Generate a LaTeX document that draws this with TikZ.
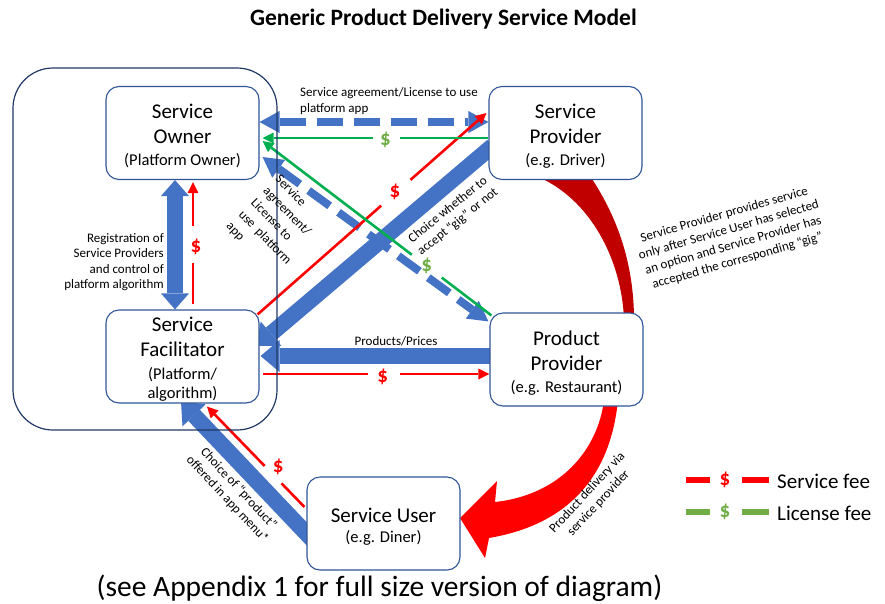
\documentclass[tikz,border=0pt]{standalone}
\usepackage{fontspec}
\setmainfont{Carlito}
\usetikzlibrary{arrows.meta,calc}

\definecolor{pblue}{HTML}{4472C4}
\definecolor{boxline}{HTML}{2F5597}
\definecolor{framecol}{HTML}{203864}
\definecolor{fred}{HTML}{FF0000}
\definecolor{dred}{HTML}{C00000}
\definecolor{lgreen}{HTML}{00B050}
\definecolor{dgreen}{HTML}{70AD47}

\newcommand\subtxt[1]{{\fontsize{16.5}{20}\selectfont #1}}

\pgfdeclarelayer{arrows}
\pgfdeclarelayer{platform}
\pgfsetlayers{arrows,platform,main}

\tikzset{
  box/.style={draw=boxline, line width=1.1pt, fill=white, rounded corners=13pt,
    minimum width=153pt, minimum height=93pt, inner sep=0pt},
  boxtext/.style={align=center, inner sep=0pt, font=\fontsize{21}{25}\selectfont},
  bigarrow/.style={draw=pblue, line width=16pt,
    -{Triangle[width=32pt,length=19pt,line width=0pt]}},
  vdouble/.style={draw=pblue, line width=16pt,
    {Triangle[width=28pt,length=16pt,line width=0pt]}-{Triangle[width=28pt,length=16pt,line width=0pt]}},
  dasharrow/.style={draw=pblue, line width=8pt, dash pattern=on 26pt off 11pt,
    {Triangle[width=22pt,length=20pt,line width=0pt]}-{Triangle[width=22pt,length=20pt,line width=0pt]}},
  redline/.style={draw=fred, line width=2.6pt},
  greenline/.style={draw=lgreen, line width=2.6pt},
  thintip/.style={-{Triangle[width=11pt,length=11pt,line width=0pt]}},
  dollar/.style={font=\fontsize{21}{21}\selectfont\bfseries, inner sep=0pt},
  note/.style={font=\fontsize{13}{15.5}\selectfont, inner sep=0pt},
  legendtext/.style={font=\fontsize{21}{25}\selectfont, inner sep=0pt, anchor=west},
}

\begin{document}
\begin{tikzpicture}[x=1pt,y=-1pt]
\useasboundingbox (0,0) rectangle (885,603);

% title and footnote
\node[font=\fontsize{23.5}{28}\selectfont\bfseries] (title) at (443.5,19)
  {Generic Product Delivery Service Model};
\node[font=\fontsize{29.5}{34}\selectfont] (foot) at (379.5,588)
  {(see Appendix 1 for full size version of diagram)};

% parties
\node[box] (so) at (182.5,133) {};
\node[box] (sp) at (565.5,133) {};
\node[box] (sf) at (182.5,356.5) {};
\node[box] (pp) at (566.5,359.5) {};
\node[box] (su) at (383.5,523.5) {};

\node[boxtext] (so-t) at ($(so)+(0,3)$) {Service\\Owner\\[-3pt]\subtxt{(Platform Owner)}};
\node[boxtext] (sp-t) at ($(sp)+(0,3)$) {Service\\Provider\\[-3pt]\subtxt{(e.g. Driver)}};
\node[boxtext] (sf-t) at ($(sf)+(0,3)$)
  {Service\\Facilitator\\[-2pt]\subtxt{(Platform/}\\[-6pt]\subtxt{algorithm)}};
\node[boxtext] (pp-t) at ($(pp)+(0,3.5)$) {Product\\Provider\\[-3pt]\subtxt{(e.g. Restaurant)}};
\node[boxtext] (su-t) at ($(su)+(0,3.5)$) {Service User\\[-5pt]\subtxt{(e.g. Diner)}};

% platform frame around owner and facilitator
\begin{pgfonlayer}{platform}
  \node[draw=framecol, line width=1.2pt, rounded corners=40pt,
    minimum width=264pt, minimum height=362pt, inner sep=0pt] (platform) at (145,249) {};
\end{pgfonlayer}

\begin{pgfonlayer}{arrows}
  % delivery loop: service provider -> service user, behind product provider
  \fill[dred] (536,176) .. controls (590,198) and (622,260) .. (624,320)
    -- (634,320) .. controls (634,260) and (615,213) .. (590,176) -- cycle;
  \fill[fred] (604,400) .. controls (598,450) and (560,495) .. (495,502)
    -- (497,481) -- (460,518) -- (485,558) -- (489,538)
    .. controls (565,525) and (610,480) .. (618,400) -- cycle;

  % block arrows
  \draw[bigarrow] ($(sp.west)+(4,13)$) -- ($(sf.east)+(-3,-10.5)$);
  \draw[bigarrow] ($(pp.west)+(2,-3.5)$) -- ($(sf.east)+(1,-0.5)$);
  \draw[bigarrow] ($(su.west)+(8,18.5)$) -- ($(sf.south)+(-1.5,-2)$);
  \draw[vdouble] ($(so.south)+(-7.5,0)$) -- ($(sf.north)+(-7.5,0)$);

  % agreements
  \draw[dasharrow] ($(so.east)+(0,-11)$) -- ($(sp.west)+(0,-11)$);
  \draw[dasharrow] ($(so.east)+(3,24)$) -- ($(pp.north west)+(-1,9)$);

  % service fees
  \coordinate (r1a) at ($(sf.north east)+(-2,5)$);
  \coordinate (r1b) at ($(sp.west)+(-2,-20)$);
  \draw[redline] (r1a) -- ($(r1a)!0.54!(r1b)$);
  \draw[redline,thintip] ($(r1a)!0.668!(r1b)$) -- (r1b);

  \coordinate (r2a) at ($(sf.east)+(3,17.5)$);
  \coordinate (r2b) at ($(pp.west)+(0,14.5)$);
  \draw[redline] (r2a) -- ($(r2a)!0.465!(r2b)$);
  \draw[redline,thintip] ($(r2a)!0.605!(r2b)$) -- (r2b);

  \coordinate (r3a) at ($(sf.north)+(10.5,-5)$);
  \coordinate (r3b) at ($(so.south)+(10.5,2)$);
  \draw[redline] (r3a) -- ($(r3a)!0.341!(r3b)$);
  \draw[redline,thintip] ($(r3a)!0.642!(r3b)$) -- (r3b);

  \coordinate (r4a) at ($(su.west)+(-2,-16.5)$);
  \coordinate (r4b) at ($(sf.south)+(24.5,3)$);
  \draw[redline] (r4a) -- ($(r4a)!0.235!(r4b)$);
  \draw[redline,thintip] ($(r4a)!0.408!(r4b)$) -- (r4b);

  % license fees
  \coordinate (g1a) at ($(sp.west)+(0,5)$);
  \coordinate (g1b) at ($(so.east)+(3,5)$);
  \draw[greenline] (g1a) -- ($(g1a)!0.39!(g1b)$);
  \draw[greenline,thintip] ($(g1a)!0.513!(g1b)$) -- (g1b);

  \coordinate (g2a) at ($(pp.north west)+(2,3)$);
  \coordinate (g2b) at ($(so.east)+(3,8)$);
  \draw[greenline] (g2a) -- ($(g2a)!0.217!(g2b)$);
  \draw[greenline,thintip] ($(g2a)!0.348!(g2b)$) -- (g2b);
\end{pgfonlayer}

% fee markers
\node[dollar,text=fred] (d1) at ($(r1a)!0.6!(r1b)+(0,-2)$) {\$};
\node[dollar,text=fred] (d2) at ($(r2a)!0.53!(r2b)+(0,3)$) {\$};
\node[dollar,text=fred] (d3) at ($(r3a)!0.47!(r3b)+(3,0)$) {\$};
\node[dollar,text=fred] (d4) at ($(r4a)!0.32!(r4b)+(5,-8)$) {\$};
\node[dollar,text=dgreen] (d5) at ($(g1a)!0.456!(g1b)+(0,2)$) {\$};
\node[dollar,text=dgreen] (d6) at ($(g2a)!0.283!(g2b)$) {\$};

% connector labels
\node[note, align=left, anchor=west] (lab1) at (300,101)
  {Service agreement/License to use\\platform app};
\node[note] (lab2) at (396,341) {Products/Prices};
\node[note, align=right, anchor=east] (lab3) at (164,262)
  {Registration of\\Service Providers\\and control of\\platform algorithm};
\node[note, font=\fontsize{13}{17}\selectfont, align=left, rotate=-46] (lab4) at (277,226)
  {Service\\agreement/\\License to\\use\ \ platform\\app};
\node[note, align=center, rotate=39] (lab5) at (453,216)
  {Choice whether to\\accept “gig” or not};
\node[note, align=center, rotate=-47] (lab6) at (233,494)
  {Choice of “product”\\offered in app menu*};
\node[note, font=\fontsize{13}{16}\selectfont, align=center, rotate=16] (lab7) at (731,238)
  {Service Provider provides service\\only after Service User has selected\\an option and Service Provider has\\accepted the corresponding “gig”};
\node[note, align=center, rotate=47] (lab8) at (593,498)
  {Product delivery via\\service provider};

% legend
\draw[fred, line width=5.5pt] (686,480) -- (710,480) (742,480) -- (769,480);
\node[dollar,text=fred] (ld1) at (725,480) {\$};
\node[legendtext] (lt1) at (777,481) {Service fee};
\draw[dgreen, line width=5.5pt] (686,512) -- (710,512) (742,512) -- (769,512);
\node[dollar,text=dgreen] (ld2) at (725,512) {\$};
\node[legendtext] (lt2) at (777,513) {License fee};
\end{tikzpicture}
\end{document}
